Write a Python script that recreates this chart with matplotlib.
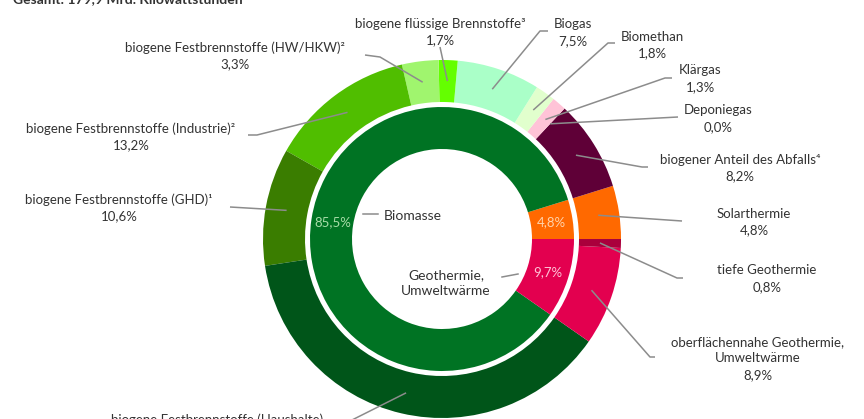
import matplotlib
matplotlib.use("Agg")
import matplotlib.pyplot as plt
import numpy as np

# ---------------- data ----------------
title = "Gesamt: 179,9 Mrd. Kilowattstunden"

inner_labels = ["Solarthermie", "Biomasse", "Geothermie,\nUmweltwärme"]
inner_values = [4.8, 85.5, 9.7]
inner_colors = ["#FF6900", "#007323", "#E3004F"]
inner_pct_colors = ["#FFD2AA", "#A8DCA8", "#FFC3D7"]

outer_labels = [
    "Solarthermie",
    "biogener Anteil des Abfalls\u2074",
    "Deponiegas",
    "Klärgas",
    "Biomethan",
    "Biogas",
    "biogene flüssige Brennstoffe\u00b3",
    "biogene Festbrennstoffe (HW/HKW)\u00b2",
    "biogene Festbrennstoffe (Industrie)\u00b2",
    "biogene Festbrennstoffe (GHD)\u00b9",
    "biogene Festbrennstoffe (Haushalte)",
    "oberflächennahe Geothermie,\nUmweltwärme",
    "tiefe Geothermie",
]
outer_values = [4.8, 8.2, 0.0, 1.3, 1.8, 7.5, 1.7, 3.3, 13.2, 10.6, 37.9, 8.9, 0.8]
outer_colors = ["#FF6900", "#5F0037", "#FFC3D7", "#FFC3D7", "#E1FFCD", "#AAFFC8",
                "#64FF00", "#A0F56E", "#50BE00", "#3A7D00", "#005519", "#E3004F", "#AA003C"]

# ---------------- layout (pixel coords, y from top) ----------------
W, H = 864, 419
CX, CY = 442, 239
R_OUT, W_OUT = 179, 42
R_IN, W_IN = 132, 42

# text centre positions for outer labels
outer_text_pos = [(754, 222), (740, 168), (718, 118.5), (700, 78.5), (652, 45),
                  (573, 32.5), (440, 32), (235, 55.5), (131, 136.5), (119, 207.5),
                  (217, 428), (758, 358.5), (767, 278.5)]
# leader line points after the anchor on the wedge
outer_line_pts = [
    [(682, 221)],
    [(642, 167), (648, 167)],
    [(678, 117)],
    [(665, 78), (672, 78)],
    [(608, 43), (615, 43)],
    [(540, 31), (548, 31)],
    [(440, 47)],
    [(380, 57), (365, 55)],
    [(257, 135), (248, 135)],
    [(230, 207)],
    [(350, 421)],
    [(650, 357), (655, 357)],
    [(677, 278), (683, 278)],
]

FONT = ["Lato", "DejaVu Sans"]
TXT = "#333333"
LINE = "#8C8C8C"
FS = 9.5


def Y(y):
    return H - y


def fmt(v):
    return f"{v:.1f}".replace(".", ",") + "%"


fig = plt.figure(figsize=(W / 100, H / 100), dpi=100)
ax = fig.add_axes([0, 0, 1, 1])

ax.pie(outer_values, radius=R_OUT, center=(CX, Y(CY)), startangle=0, counterclock=True,
       colors=outer_colors, wedgeprops=dict(width=W_OUT, edgecolor="none", linewidth=0),
       frame=True)
ax.pie(inner_values, radius=R_IN, center=(CX, Y(CY)), startangle=0, counterclock=True,
       colors=inner_colors, wedgeprops=dict(width=W_IN, edgecolor="none", linewidth=0),
       frame=True)

ax.set_xlim(0, W)
ax.set_ylim(0, H)
ax.set_aspect("equal")
ax.axis("off")

# outer labels with leader lines
cum = np.concatenate([[0], np.cumsum(outer_values)]) / np.sum(outer_values) * 360
r_mid = R_OUT - W_OUT / 2
for i, name in enumerate(outer_labels):
    mid = np.deg2rad((cum[i] + cum[i + 1]) / 2)
    ax_x = CX + r_mid * np.cos(mid)
    ax_y = Y(CY) + r_mid * np.sin(mid)
    xs = [ax_x] + [p[0] for p in outer_line_pts[i]]
    ys = [ax_y] + [Y(p[1]) for p in outer_line_pts[i]]
    ax.plot(xs, ys, color=LINE, lw=1.1, solid_capstyle="butt")
    tx, ty = outer_text_pos[i]
    ax.text(tx, Y(ty), f"{name}\n{fmt(outer_values[i])}", ha="center", va="center",
            fontsize=FS, color=TXT, family=FONT, linespacing=1.45)

# inner ring percentages
cum_in = np.concatenate([[0], np.cumsum(inner_values)]) / np.sum(inner_values) * 360
r_mid_in = R_IN - W_IN / 2
for i, v in enumerate(inner_values):
    mid = np.deg2rad((cum_in[i] + cum_in[i + 1]) / 2)
    ax.text(CX + r_mid_in * np.cos(mid), Y(CY) + r_mid_in * np.sin(mid), fmt(v),
            ha="center", va="center", fontsize=FS, color=inner_pct_colors[i], family=FONT)

# inner ring name labels
ax.plot([363, 378], [Y(214), Y(214)], color=LINE, lw=1.1)
ax.text(384, Y(216), inner_labels[1], ha="left", va="center", fontsize=FS + 0.5,
        color=TXT, family=FONT)
ax.plot([502, 518], [Y(277), Y(274)], color=LINE, lw=1.1)
ax.text(446, Y(283), inner_labels[2], ha="center", va="center", fontsize=FS + 0.5,
        color=TXT, family=FONT, linespacing=1.4)

# title (cropped at top in the reference)
ax.text(13, Y(3), title, ha="left", va="baseline", fontsize=FS + 0.5, fontweight="bold",
        color=TXT, family=FONT)

fig.savefig("out.png", dpi=100, facecolor="white")
